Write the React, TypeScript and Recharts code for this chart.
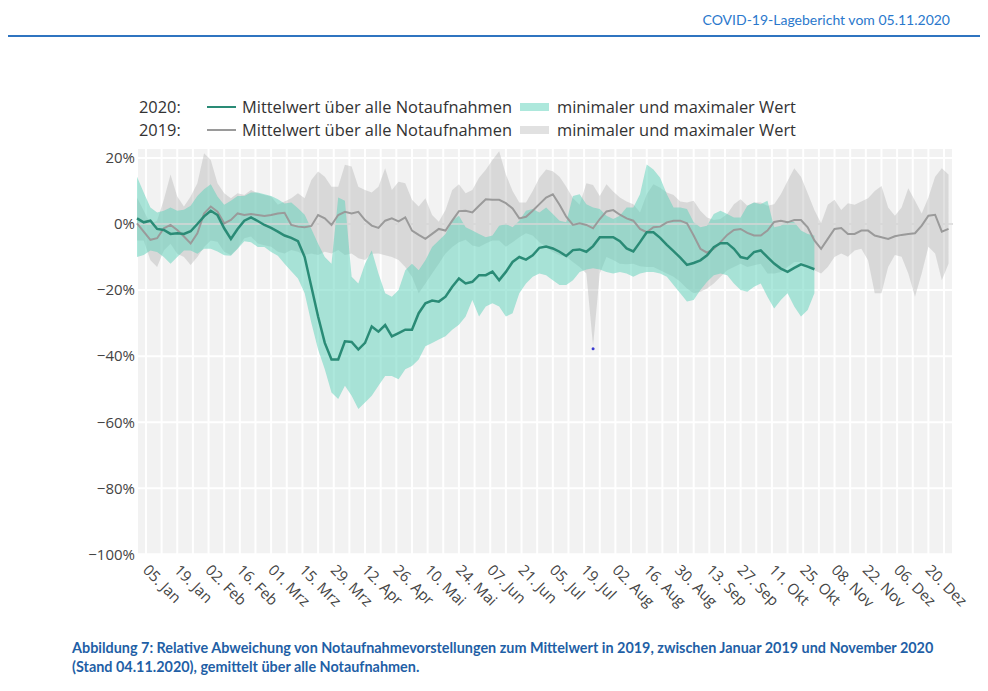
import { ComposedChart, Area, Line, XAxis, YAxis, CartesianGrid, ReferenceLine, ReferenceDot } from 'recharts';

// sampling step of the readings, in days since 1 Jan
const STEP = 3;

// 2020: mean, min and max over all emergency departments (% deviation from 2019 mean)
const mean2020 = [
  1.7, 0.5, 1.0, -1.5, -1.8, -3, -2.8, -3, -2.2, 0,
  2.3, 4, 2.7, -1.3, -4.5, -1.5, 1, 2, 0.9, -0.3,
  -1.2, -2.3, -3.5, -4.2, -5.2, -10, -19, -28, -36, -41,
  -41, -35.5, -35.7, -38, -36, -31, -32.6, -30.6, -34, -33,
  -32, -32, -27, -24, -23.2, -23.5, -22, -19, -16.5, -18,
  -17.5, -15.5, -15.5, -14.4, -17, -14.5, -11.5, -10, -10.8, -9.5,
  -7.2, -6.8, -7.4, -8.4, -9.7, -7.9, -7.7, -8.4, -6.7, -4,
  -4, -4, -5.2, -7.4, -8.3, -5.5, -2.5, -2.5, -4.2, -6.3,
  -8.2, -10.2, -12.4, -11.8, -11, -9.5, -7, -5.8, -5.8, -7.5,
  -10, -10.5, -8.5, -8, -10, -12, -13.5, -14.5, -13.3, -12.2,
  -12.9, -13.7,
];
const high2020 = [
  14.3, 9.5, 5, 3.5, 4, 5, 4, 4.3, 5.5, 8.5,
  10.5, 12, 8.3, 5.8, 7, 8.5, 8.5, 9.5, 9.5, 9,
  8.5, 7.5, 6.2, 6.5, 4.8, 2.8, -1.5, -6, -10, -12,
  8, 7, -16, -18, -12, -8, -15, -21, -22, -20,
  -14, -12, -14, -11, -7, -5, -3, 1, 2.5, -1,
  -2, -3, -4, -3.5, -0.5, 0, -1, 1, 4, 4.5,
  3.5, 5, 3, 1, 0.5, 8.5, 9, 6, 5, 4.5,
  2.5, 1.5, 2.5, 5, 5, 9, 18, 16.5, 14, 9,
  5, 5, 4.5, 0.5, -1, -0.5, 3, 4, 3, 2,
  2, 5.5, 6.5, 6, 7, -1, -0.5, 1, 0.5, -2,
  -3, -3.5,
];
const low2020 = [
  -10, -9.4, -8, -8.5, -10, -12, -10, -8, -8, -9,
  -7.5, -7.5, -8.3, -9.5, -9.6, -7.5, -5.2, -5.5, -7, -7,
  -8.5, -9.6, -12, -14.3, -16.5, -21, -30, -38, -44, -51,
  -53, -49, -52, -56, -54, -52, -49, -46, -46, -47,
  -44, -43, -41, -37, -36, -35, -34, -32, -30.5, -28,
  -23, -28, -25, -24, -25, -28, -27, -21, -18, -16,
  -15, -15.5, -17, -18.5, -18.5, -17, -14.5, -13.8, -13.4, -13.8,
  -14.5, -15, -14.5, -15, -16, -15, -14.5, -14.5, -15, -16,
  -18.5, -21, -23.5, -23, -20, -17.5, -15.5, -15, -15.5, -18,
  -20, -20.5, -19, -18, -22, -25.6, -23, -21, -25, -28,
  -26, -21,
];

// 2019: mean, min and max
const mean2019 = [
  0.2, -2.3, -4.8, -4.3, -1.3, -0.3, -1.8, -3.8, -5.9, -2.8,
  3.2, 5.3, 3.7, 0.2, 1.2, 3.2, 2.7, 3, 2.7, 2.4,
  2.7, 3.2, 3.4, -0.3, -0.8, -1, -0.6, 2.7, 1.7, -0.3,
  2.7, 3.7, 3.2, 3.7, 1.2, -0.5, -1.2, 1, 1.7, 0.8,
  2, -2, -3.3, -4.5, -3, -1.5, -2, 1, 3.9, 4,
  3.5, 5.5, 7.5, 7.3, 7.3, 6.3, 4.7, 1.7, 2.2, 4,
  6, 8, 9, 5.8, 2.2, -0.3, 0.2, -0.3, -1.3, 1.5,
  3.8, 4.2, 2.8, 1.7, 1, -1.5, -2.5, -1, -0.8, 0.5,
  1, 1, 0.2, -3.5, -7.5, -8.7, -7.5, -5.5, -3.3, -1.8,
  -1.5, -2.7, -3.5, -3.5, -2, 0.6, 1, 0.5, 1.2, 1.2,
  -1, -5, -7.5, -4.5, -1.5, -1.2, -3, -3, -2, -2,
  -3.5, -4, -4.5, -3.7, -3.3, -3, -2.8, -0.5, 2.5, 2.8,
  -2.3, -1.5,
];
const high2019 = [
  8, 4, 0, 1, 7.3, 15, 8.3, 5.3, 8.3, 12.3,
  21.4, 19.4, 12.3, 9.3, 7.8, 9.3, 8.8, 10.3, 9.3, 8.8,
  8.3, 5.8, 6.8, 7.8, 9.3, 7.8, 13.3, 15.9, 14.3, 11.3,
  11.3, 17.9, 17.4, 11.3, 10.3, 9.5, 11.3, 16.9, 10.3, 12.8,
  12.3, 7.3, 5.3, 7.8, 2.7, 0.7, 4.2, 10.3, 12, 9.3,
  10.3, 14, 16.4, 19.4, 22, 15, 10, 6.5, 6.5, 10,
  14, 16.5, 16, 14.3, 11.3, 7.8, 5.8, 12.3, 11.8, 8.5,
  12, 9.8, 8, 6.8, 6, 3.5, 9, 12, 11, 9.5,
  8.8, 6.8, 6.5, 7, 4, 2, 1.2, 1.5, 3, 6,
  7.5, 5.5, 6.5, 6.5, 5.5, 6, 9, 13, 16.9, 14.3,
  9.3, 4.2, 0.2, 5.8, 7.3, 4.2, 6.3, 5.8, 6.8, 7.8,
  10, 11.5, 5, 2.5, 5, 10.8, 7, 3.2, 8, 14.3,
  16.9, 15,
];
const low2019 = [
  -5, -5, -11, -13, -8, -6, -9, -10, -12.4, -10,
  -7, -5, -5.4, -8.4, -9.4, -7.4, -4.3, -3.8, -5.9, -6.4,
  -6.9, -8.4, -8.9, -7.9, -8.4, -9.4, -8.9, -9.4, -8.4, -8.9,
  -7.9, -9.4, -8.9, -10.4, -10.9, -9, -8.9, -9.5, -10, -10.9,
  -13, -16, -21, -18, -15, -12, -8.9, -7, -5.5, -4.8,
  -6.5, -7, -5.9, -5, -5, -6.9, -5.5, -4, -2.8, -3.5,
  -5.5, -6.9, -8.5, -9.5, -9.9, -11.5, -13, -15, -37, -15,
  -10, -10.9, -12, -12.2, -12, -12.8, -13, -13, -14, -15,
  -16, -17.5, -19.5, -21, -20.5, -19.5, -18, -16, -14, -13,
  -12, -13, -12.5, -12, -15, -15, -14.5, -13, -11.5, -11.5,
  -13, -14, -15, -13, -10, -8.9, -9.9, -8, -7.5, -11,
  -21, -21, -13, -9.4, -9.9, -15, -22, -15, -6.9, -8.9,
  -17, -12,
];

// one label every second Sunday, starting 05. Jan (day 4)
const tickLabels = [
  '05. Jan', '19. Jan', '02. Feb', '16. Feb', '01. Mrz', '15. Mrz', '29. Mrz',
  '12. Apr', '26. Apr', '10. Mai', '24. Mai', '07. Jun', '21. Jun', '05. Jul',
  '19. Jul', '02. Aug', '16. Aug', '30. Aug', '13. Sep', '27. Sep', '11. Okt',
  '25. Okt', '08. Nov', '22. Nov', '06. Dez', '20. Dez',
];
const yTicks = [-100, -80, -60, -40, -20, 0, 20];

const weekTicks = Array.from({ length: 52 }, (_, k) => 4 + 7 * k);

const chartData = mean2019.map((m, i) => ({
  day: i * STEP,
  m19: m,
  r19: [low2019[i], high2019[i]],
  m20: i < mean2020.length ? mean2020[i] : undefined,
  r20: i < mean2020.length ? [low2020[i], high2020[i]] : undefined,
}));

const TEAL = '#2a8b76';
const TEAL_FILL = '#5cd2b9';
const GREY = '#9a9a9a';
const GREY_FILL = '#aaaaaa';
const FONT = '"Open Sans", "DejaVu Sans", sans-serif';

const fmtPct = (v: number) => (v < 0 ? `\u2212${Math.abs(v)}%` : `${v}%`);

const DateTick = (props: any) => {
  const { x, y, payload } = props;
  const k = weekTicks.indexOf(payload.value);
  if (k < 0 || k % 2 !== 0) return null;
  const tx = x - 4;
  const ty = y + 13;
  return (
    <text x={tx} y={ty} transform={`rotate(45 ${tx} ${ty})`} textAnchor="start" fill="#444" fontSize={15} fontFamily={FONT}>
      {tickLabels[k / 2]}
    </text>
  );
};

function LegendRow({ top, year, line, fill }: { top: number; year: string; line: string; fill: string }) {
  const text = { position: 'absolute' as const, top: top - 12, fontSize: 16.4, lineHeight: '24px', color: '#333', whiteSpace: 'nowrap' as const };
  return (
    <>
      <div style={{ ...text, left: 131 }}>{year}</div>
      <div style={{ position: 'absolute', left: 199, top: top - 1, width: 29, height: 2, background: line }} />
      <div style={{ ...text, left: 234 }}>Mittelwert über alle Notaufnahmen</div>
      <div style={{ position: 'absolute', left: 512, top: top - 4, width: 29, height: 8, background: fill }} />
      <div style={{ ...text, left: 549 }}>minimaler und maximaler Wert</div>
    </>
  );
}

export default function App() {
  return (
    <div style={{ position: 'relative', width: 972, height: 675, fontFamily: FONT, overflow: 'hidden' }}>
      <div style={{ position: 'absolute', right: 30, top: 3, fontFamily: 'Lato, sans-serif', fontSize: 14, color: '#2a78cc', lineHeight: '18px' }}>
        COVID-19-Lagebericht vom 05.11.2020
      </div>
      <div style={{ position: 'absolute', left: 0, top: 27, width: 972, height: 2, background: '#2f74c0' }} />

      <LegendRow top={99} year="2020:" line={TEAL} fill="#ade8dc" />
      <LegendRow top={122} year="2019:" line={GREY} fill="#e1e1e1" />

      <div style={{ position: 'absolute', left: 0, top: 132 }}>
        <ComposedChart width={975} height={480} data={chartData} margin={{ top: 8, right: 30, bottom: 4, left: 0 }}>
          <CartesianGrid fill="#f2f2f2" stroke="#ffffff" strokeWidth={2} />
          <XAxis
            dataKey="day"
            type="number"
            domain={[0, 365]}
            ticks={weekTicks}
            interval={0}
            tick={<DateTick />}
            tickLine={false}
            axisLine={false}
            tickSize={0}
            height={60}
          />
          <YAxis
            type="number"
            domain={[-100.5, 23]}
            ticks={yTicks}
            tickFormatter={fmtPct}
            tick={{ fill: '#444', fontSize: 15, fontFamily: FONT }}
            tickLine={false}
            axisLine={false}
            tickMargin={2}
            tickSize={0}
            width={129}
          />
          <ReferenceLine y={0} stroke="#d4d4d4" strokeWidth={1.5} />
          <Area dataKey="r19" stroke="none" fill={GREY_FILL} fillOpacity={0.35} isAnimationActive={false} />
          <Line dataKey="m19" stroke={GREY} strokeWidth={2} dot={false} isAnimationActive={false} />
          <Area dataKey="r20" stroke="none" fill={TEAL_FILL} fillOpacity={0.5} isAnimationActive={false} />
          <Line dataKey="m20" stroke={TEAL} strokeWidth={2.5} dot={false} isAnimationActive={false} />
          <ReferenceDot x={204} y={-37.8} r={1.5} fill="#3b3bd0" stroke="none" />
        </ComposedChart>
      </div>

      <div style={{ position: 'absolute', left: 64, top: 630, fontFamily: 'Lato, sans-serif', fontWeight: 700, fontSize: 14.4, color: '#1f5fa6', lineHeight: '19px', whiteSpace: 'nowrap' }}>
        <div>Abbildung 7: Relative Abweichung von Notaufnahmevorstellungen zum Mittelwert in 2019, zwischen Januar 2019 und November 2020</div>
        <div>(Stand 04.11.2020), gemittelt über alle Notaufnahmen.</div>
      </div>
    </div>
  );
}
